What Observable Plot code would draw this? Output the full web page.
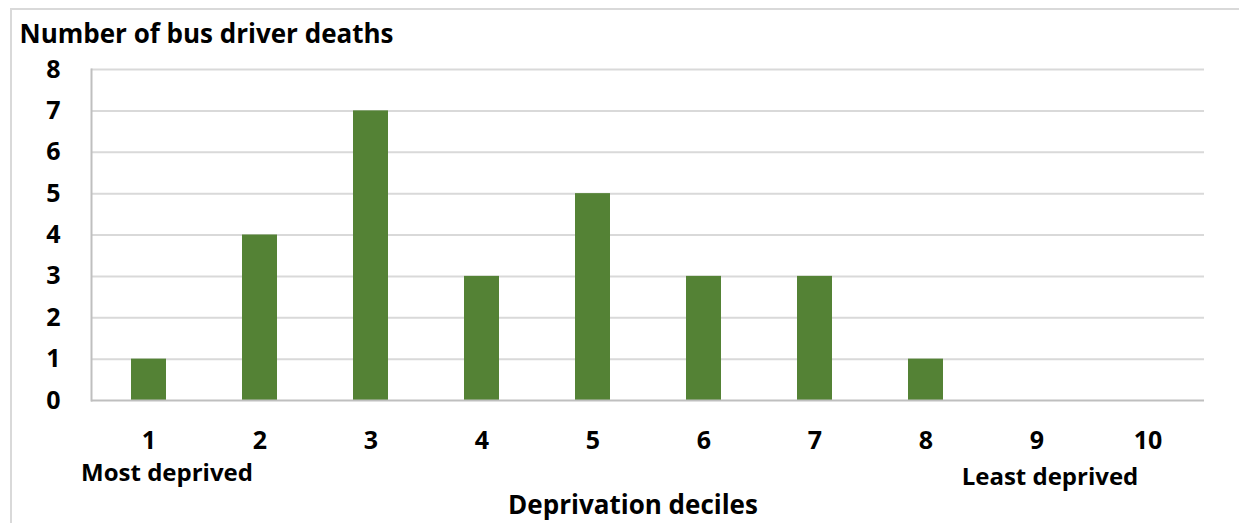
<!DOCTYPE html>
<html>
<head>
<meta charset="utf-8">
<script src="https://cdn.jsdelivr.net/npm/d3@7"></script>
<script src="https://cdn.jsdelivr.net/npm/@observablehq/plot@0.6"></script>
<style>
  html, body { margin: 0; padding: 0; background: #fff; }
  #wrap { position: relative; width: 1239px; height: 523px; overflow: hidden; }
  #border { position: absolute; left: 10px; top: 8px; width: 1300px; height: 600px;
            border-left: 2px solid #d9d9d9; border-top: 2px solid #d9d9d9; }
  #chart { position: absolute; left: 0; top: 0; }
</style>
</head>
<body>
<div id="wrap"><div id="border"></div><div id="chart"></div></div>
<script>
const deciles = [1, 2, 3, 4, 5, 6, 7, 8, 9, 10];
const deaths  = [1, 4, 7, 3, 5, 3, 3, 1, 0, 0];
const yTicks  = [0, 1, 2, 3, 4, 5, 6, 7, 8];
const title = "Number of bus driver deaths";
const xTitle = "Deprivation deciles";
const mostLabel = [{decile: 1, label: "Most deprived"}];
const leastLabel = [{decile: 9, label: "Least deprived"}];

const data = deciles.map((d, i) => ({decile: d, deaths: deaths[i]}));
const FONT = "'Open Sans', Lato, sans-serif";

const chart = Plot.plot({
  width: 1239,
  height: 523,
  marginLeft: 91,
  marginRight: 35,
  marginTop: 69,
  marginBottom: 123,
  style: {fontFamily: FONT, fontWeight: "bold", fontSize: "25px", color: "#000", background: "transparent"},
  x: {type: "band", domain: deciles, paddingInner: 0.685, paddingOuter: 0.3425, label: null},
  y: {domain: [0, 8], label: null},
  marks: [
    Plot.ruleY(yTicks.filter(t => t > 0), {stroke: "#d9d9d9", strokeWidth: 2, strokeOpacity: 1}),
    Plot.barY(data, {x: "decile", y: "deaths", fill: "#548235"}),
    Plot.ruleY([0], {stroke: "#bfbfbf", strokeWidth: 2, strokeOpacity: 1}),
    Plot.frame({anchor: "left", stroke: "#bfbfbf", strokeWidth: 2, strokeOpacity: 1}),
    Plot.axisY({ticks: yTicks, tickSize: 0, tickPadding: 31, label: null, fontSize: 25, fontWeight: "bold"}),
    Plot.axisX({tickSize: 0, tickPadding: 31, label: null, fontSize: 25, fontWeight: "bold"}),
    Plot.text(mostLabel, {x: "decile", text: "label", frameAnchor: "bottom", lineAnchor: "bottom", dy: 80, dx: 18, fontSize: 24, fontWeight: "bold", fill: "#000"}),
    Plot.text(leastLabel, {x: "decile", text: "label", frameAnchor: "bottom", lineAnchor: "bottom", dy: 84, dx: 13, fontSize: 24, fontWeight: "bold", fill: "#000"}),
    Plot.text([title], {frameAnchor: "top-left", textAnchor: "start", lineAnchor: "bottom", dx: -72, dy: -27, fontSize: 26, fontWeight: "bold", fill: "#000"}),
    Plot.text([xTitle], {frameAnchor: "bottom", lineAnchor: "bottom", dx: -15, dy: 113, fontSize: 26, fontWeight: "bold", fill: "#000"})
  ]
});
document.getElementById("chart").appendChild(chart);
</script>
</body>
</html>
